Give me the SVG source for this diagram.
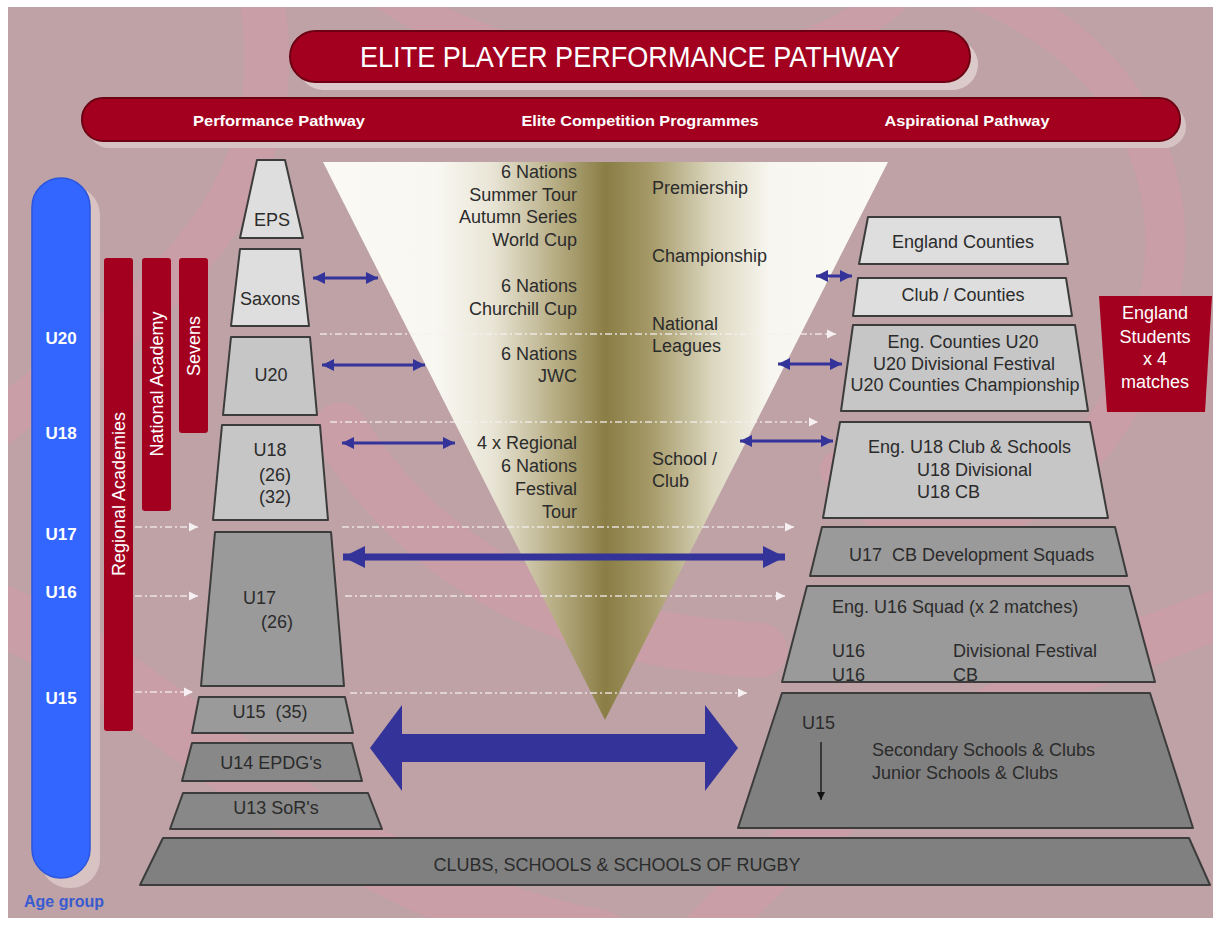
<svg xmlns="http://www.w3.org/2000/svg" width="1220" height="926" viewBox="0 0 1220 926">
<style>
.t{font-family:"Liberation Sans",Arial,sans-serif;font-size:18px;fill:#2b2b2b}
.m{text-anchor:middle}
.r{text-anchor:end}
.w{fill:#fff}
.wb{font-family:"Liberation Sans",Arial,sans-serif;font-weight:bold;fill:#fff}
.wn{font-family:"Liberation Sans",Arial,sans-serif;font-weight:normal;fill:#fff}
.sw{fill:none;stroke:#d39aa7;stroke-opacity:0.5;stroke-linecap:round}
.bx{stroke:#3c3c3c;stroke-width:2;stroke-linejoin:round}
.l1{fill:#dedede}.l2{fill:#c6c6c6}.l3{fill:#9a9a9a}.l4{fill:#888}.l5{fill:#808080}
.red{fill:#a3001f}
.bl{stroke:#33339a;fill:none}
.dd{stroke:#f4eef0;stroke-opacity:0.85;stroke-width:1.5;stroke-dasharray:7 3 2 3;fill:none}
</style>
<defs>
<clipPath id="bgclip"><rect x="8" y="7" width="1205" height="911"/></clipPath>
<linearGradient id="tg" gradientUnits="userSpaceOnUse" x1="323" y1="0" x2="888" y2="0">
<stop offset="0" stop-color="#faf9f5"/>
<stop offset="0.2" stop-color="#f8f7f1"/>
<stop offset="0.3" stop-color="#e9e5d6"/>
<stop offset="0.42" stop-color="#b3a97e"/>
<stop offset="0.5" stop-color="#8a7d45"/>
<stop offset="0.58" stop-color="#a59a68"/>
<stop offset="0.69" stop-color="#dcd7bf"/>
<stop offset="0.79" stop-color="#f7f6ef"/>
<stop offset="1" stop-color="#faf9f5"/>
</linearGradient>
<marker id="ah" viewBox="0 0 10 10" refX="10" refY="5" markerWidth="12" markerHeight="18" markerUnits="userSpaceOnUse" orient="auto-start-reverse"><path d="M0,0 L10,5 L0,10 z" fill="#33339a"/></marker>
<marker id="am" viewBox="0 0 10 10" refX="10" refY="5" markerWidth="22" markerHeight="36" markerUnits="userSpaceOnUse" orient="auto-start-reverse"><path d="M0,0 L10,5 L0,10 z" fill="#33339a"/></marker>
<marker id="wh" viewBox="0 0 10 10" refX="10" refY="5" markerWidth="9" markerHeight="11" markerUnits="userSpaceOnUse" orient="auto"><path d="M0,0 L10,5 L0,10 z" fill="#f6f0f2"/></marker>
<marker id="kh" viewBox="0 0 10 10" refX="10" refY="5" markerWidth="8" markerHeight="8" markerUnits="userSpaceOnUse" orient="auto"><path d="M0,0 L10,5 L0,10 z" fill="#111"/></marker>
</defs>
<rect x="0" y="0" width="1220" height="926" fill="#fff"/>
<g id="background" clip-path="url(#bgclip)">
<rect x="8" y="7" width="1205" height="911" fill="#bea2a6"/>
<path class="sw" stroke-width="45" d="M260 -10 C300 200 160 300 -10 430"/>
<path class="sw" stroke-width="40" d="M980 -10 C1170 70 1215 250 1110 420 C1030 540 900 560 840 470"/>
<path class="sw" stroke-width="60" d="M-10 610 C200 700 300 880 600 940"/>
<path class="sw" stroke-width="50" d="M700 940 C900 720 1100 660 1230 610"/>
<path class="sw" stroke-width="35" d="M380 -10 C600 130 820 70 900 -10"/>
<path class="sw" stroke-width="55" d="M340 430 C420 560 560 640 760 650"/>
</g>
<g id="title">
<rect x="298" y="39" width="680" height="51" rx="25.5" fill="#dccaca"/>
<rect x="290" y="31" width="680" height="51" rx="25.5" fill="#a3001f" stroke="#6d0012" stroke-width="2"/>
<text x="630" y="67" class="wn" font-size="29" text-anchor="middle" textLength="540" lengthAdjust="spacingAndGlyphs">ELITE PLAYER PERFORMANCE PATHWAY</text>
</g>
<g id="header-bar">
<rect x="88" y="105" width="1098" height="43" rx="21" fill="#d6c2c2"/>
<rect x="82" y="98" width="1098" height="43" rx="21" fill="#a3001f" stroke="#6d0012" stroke-width="2"/>
<text x="279" y="126" class="wb" font-size="15" text-anchor="middle" textLength="172" lengthAdjust="spacingAndGlyphs">Performance Pathway</text>
<text x="640" y="126" class="wb" font-size="15" text-anchor="middle" textLength="237" lengthAdjust="spacingAndGlyphs">Elite Competition Programmes</text>
<text x="967" y="126" class="wb" font-size="15" text-anchor="middle" textLength="165" lengthAdjust="spacingAndGlyphs">Aspirational Pathway</text>
</g>
<g id="age-group">
<rect x="40" y="186" width="60" height="702" rx="29" fill="#d9c2c2"/>
<rect x="32" y="178" width="58" height="700" rx="29" fill="#3366ff" stroke="#2b55dd" stroke-width="1.5"/>
<text x="61" y="344" class="wb m" font-size="17">U20</text>
<text x="61" y="439" class="wb m" font-size="17">U18</text>
<text x="61" y="540" class="wb m" font-size="17">U17</text>
<text x="61" y="598" class="wb m" font-size="17">U16</text>
<text x="61" y="704" class="wb m" font-size="17">U15</text>
<text x="64" y="907" font-family="Liberation Sans, Arial, sans-serif" font-weight="bold" font-size="16" fill="#3a5bd0" text-anchor="middle">Age group</text>
</g>
<g id="regional-academies">
<rect x="104" y="258" width="29" height="473" rx="3" class="red"/>
<text transform="translate(125 494) rotate(-90)" class="t w m" font-size="19">Regional Academies</text>
</g>
<g id="national-academy">
<rect x="142" y="258" width="29" height="253" rx="3" class="red"/>
<text transform="translate(163 384) rotate(-90)" class="t w m" font-size="19">National Academy</text>
</g>
<g id="sevens">
<rect x="179" y="258" width="29" height="175" rx="3" class="red"/>
<text transform="translate(200 346) rotate(-90)" class="t w m" font-size="19">Sevens</text>
</g>
<g id="elite-triangle">
<polygon points="323,162 888,162 605,720" fill="url(#tg)"/>
<text class="t r" x="577" y="178">6 Nations</text>
<text class="t r" x="577" y="201">Summer Tour</text>
<text class="t r" x="577" y="223">Autumn Series</text>
<text class="t r" x="577" y="246">World Cup</text>
<text class="t r" x="577" y="292">6 Nations</text>
<text class="t r" x="577" y="315">Churchill Cup</text>
<text class="t r" x="577" y="360">6 Nations</text>
<text class="t r" x="577" y="382">JWC</text>
<text class="t r" x="577" y="449">4 x Regional</text>
<text class="t r" x="577" y="472">6 Nations</text>
<text class="t r" x="577" y="495">Festival</text>
<text class="t r" x="577" y="518">Tour</text>
<text class="t" x="652" y="194">Premiership</text>
<text class="t" x="652" y="262">Championship</text>
<text class="t" x="652" y="330">National</text>
<text class="t" x="652" y="352">Leagues</text>
<text class="t" x="652" y="465">School /</text>
<text class="t" x="652" y="487">Club</text>
</g>
<g id="eps"><polygon class="bx l1" points="257,160 285,160 303,238 240,238"/><text class="t m" x="272" y="226">EPS</text></g>
<g id="saxons"><polygon class="bx l1" points="240,249 300,249 309,326 231,326"/><text class="t m" x="270" y="305">Saxons</text></g>
<g id="u20"><polygon class="bx l2" points="231,337 310,337 317,415 223,415"/><text class="t m" x="271" y="381">U20</text></g>
<g id="u18"><polygon class="bx l2" points="222,425 320,425 328,520 213,520"/><text class="t m" x="270" y="456">U18</text><text class="t m" x="275" y="481">(26)</text><text class="t m" x="275" y="503">(32)</text></g>
<g id="u17"><polygon class="bx l3" points="215,532 331,532 344,686 201,686"/><text class="t" x="243" y="604">U17</text><text class="t m" x="277" y="628">(26)</text></g>
<g id="u15-35"><polygon class="bx l3" points="199,697 345,697 353,733 192,733"/><text class="t m" x="270" y="718">U15&#160; (35)</text></g>
<g id="u14"><polygon class="bx l4" points="192,743 352,743 362,781 182,781"/><text class="t m" x="271" y="769">U14 EPDG's</text></g>
<g id="u13"><polygon class="bx l4" points="183,793 368,793 382,829 170,829"/><text class="t m" x="276" y="814">U13 SoR's</text></g>
<g id="england-counties"><polygon class="bx l1" points="868,217 1060,217 1068,264 859,264"/><text class="t m" x="963" y="248">England Counties</text></g>
<g id="club-counties"><polygon class="bx l1" points="858,278 1066,278 1072,316 853,316"/><text class="t m" x="963" y="301">Club / Counties</text></g>
<g id="eng-counties-u20"><polygon class="bx l2" points="853,325 1075,325 1088,411 841,411"/><text class="t m" x="963" y="348">Eng. Counties U20</text><text class="t m" x="964" y="370">U20 Divisional Festival</text><text class="t m" x="965" y="391">U20 Counties Championship</text></g>
<g id="england-students"><polygon class="red" points="1099,296 1212,296 1205,412 1107,412"/><text class="t w m" x="1155" y="319">England</text><text class="t w m" x="1155" y="343">Students</text><text class="t w m" x="1155" y="365">x 4</text><text class="t w m" x="1155" y="388">matches</text></g>
<g id="eng-u18"><polygon class="bx l2" points="840,422 1090,422 1108,518 823,518"/><text class="t" x="868" y="453">Eng. U18 Club &amp; Schools</text><text class="t" x="917" y="476">U18 Divisional</text><text class="t" x="917" y="498">U18 CB</text></g>
<g id="u17-cb"><polygon class="bx l3" points="822,527 1115,527 1127,576 810,576"/><text class="t" x="849" y="561">U17&#160; CB Development Squads</text></g>
<g id="eng-u16"><polygon class="bx l3" points="807,586 1129,586 1155,682 782,682"/><text class="t" x="832" y="613">Eng. U16 Squad (x 2 matches)</text><text class="t" x="832" y="657">U16</text><text class="t" x="832" y="681">U16</text><text class="t" x="953" y="657">Divisional Festival</text><text class="t" x="953" y="681">CB</text></g>
<g id="u15-schools"><polygon class="bx l5" points="782,693 1150,693 1193,828 738,828"/><text class="t" x="802" y="729">U15</text><line x1="821" y1="742" x2="821" y2="800" stroke="#111" stroke-width="1.3" marker-end="url(#kh)"/><text class="t" x="872" y="756">Secondary Schools &amp; Clubs</text><text class="t" x="872" y="779">Junior Schools &amp; Clubs</text></g>
<g id="clubs-schools"><polygon class="bx l5" points="163,838 1189,838 1210,885 140,885"/><text class="t m" x="617" y="871">CLUBS, SCHOOLS &amp; SCHOOLS OF RUGBY</text></g>
<g id="connectors">
<line class="dd" x1="320" y1="334" x2="836" y2="334" marker-end="url(#wh)"/>
<line class="dd" x1="330" y1="422" x2="818" y2="422" marker-end="url(#wh)"/>
<line class="dd" x1="135" y1="527" x2="198" y2="527" marker-end="url(#wh)"/>
<line class="dd" x1="342" y1="527" x2="794" y2="527" marker-end="url(#wh)"/>
<line class="dd" x1="135" y1="596" x2="198" y2="596" marker-end="url(#wh)"/>
<line class="dd" x1="345" y1="596" x2="785" y2="596" marker-end="url(#wh)"/>
<line class="dd" x1="135" y1="692" x2="193" y2="692" marker-end="url(#wh)"/>
<line class="dd" x1="350" y1="693" x2="747" y2="693" marker-end="url(#wh)"/>
<line class="bl" stroke-width="3" x1="313" y1="278" x2="378" y2="278" marker-start="url(#ah)" marker-end="url(#ah)"/>
<line class="bl" stroke-width="3" x1="322" y1="365" x2="425" y2="365" marker-start="url(#ah)" marker-end="url(#ah)"/>
<line class="bl" stroke-width="3" x1="342" y1="443" x2="455" y2="443" marker-start="url(#ah)" marker-end="url(#ah)"/>
<line class="bl" stroke-width="3" x1="816" y1="276" x2="852" y2="276" marker-start="url(#ah)" marker-end="url(#ah)"/>
<line class="bl" stroke-width="3" x1="778" y1="364" x2="842" y2="364" marker-start="url(#ah)" marker-end="url(#ah)"/>
<line class="bl" stroke-width="3" x1="740" y1="441" x2="833" y2="441" marker-start="url(#ah)" marker-end="url(#ah)"/>
<line class="bl" stroke-width="7" x1="343" y1="557" x2="785" y2="557" marker-start="url(#am)" marker-end="url(#am)"/>
<polygon fill="#33339a" points="370,748 402,705 402,734 705,734 705,705 738,748 705,791 705,762 402,762 402,791"/>
</g>
</svg>
